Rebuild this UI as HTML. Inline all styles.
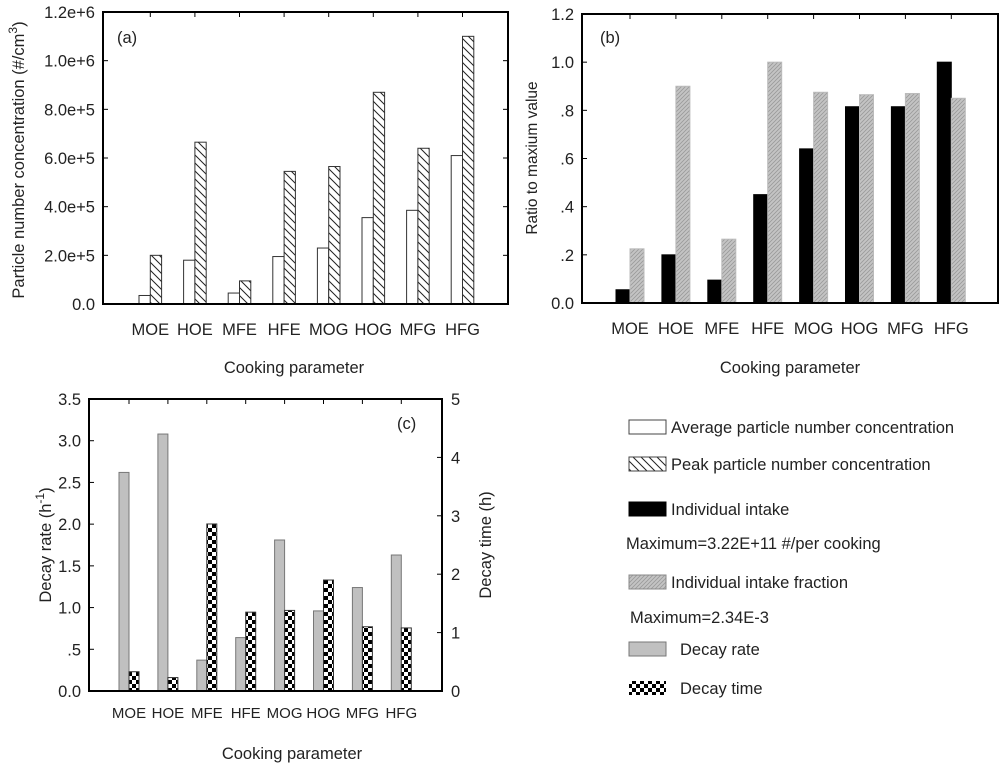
<!DOCTYPE html>
<html><head><meta charset="utf-8"><style>
body{margin:0;background:#fff;}
svg{display:block;font-family:"Liberation Sans",sans-serif;}
</style></head><body>
<svg id="s" width="1000" height="767" viewBox="0 0 1000 767">
<defs>
<pattern id="hatchA" patternUnits="userSpaceOnUse" width="8" height="8"><rect width="8" height="8" fill="#fff"/><path d="M-2,-2 L10,10 M-2,6 L2,10 M6,-2 L10,2" stroke="#222" stroke-width="1"/></pattern>
<pattern id="hatchB" patternUnits="userSpaceOnUse" width="4" height="4"><rect width="4" height="4" fill="#c4c4c4"/><path d="M-1,5 L5,-1 M-1,1 L1,-1 M3,5 L5,3" stroke="#9a9a9a" stroke-width="0.8"/></pattern>
<pattern id="checker" patternUnits="userSpaceOnUse" width="8" height="8"><rect width="8" height="8" fill="#fff"/><rect width="4" height="4" fill="#000"/><rect x="4" y="4" width="4" height="4" fill="#000"/></pattern>
</defs>
<g id="g"></g>
</svg>
<script>
const cats=["MOE","HOE","MFE","HFE","MOG","HOG","MFG","HFG"];
const aAvg=[0.035e6,0.18e6,0.045e6,0.195e6,0.23e6,0.355e6,0.385e6,0.61e6];
const aPeak=[0.2e6,0.665e6,0.095e6,0.545e6,0.565e6,0.87e6,0.64e6,1.1e6];
const aTicks=["0.0","2.0e+5","4.0e+5","6.0e+5","8.0e+5","1.0e+6","1.2e+6"];
const bIntake=[0.055,0.2,0.095,0.45,0.64,0.815,0.815,1.0];
const bFrac=[0.225,0.9,0.265,1.0,0.875,0.865,0.87,0.85];
const bTicks=["0.0",".2",".4",".6",".8","1.0","1.2"];
const cRate=[2.62,3.08,0.37,0.64,1.81,0.96,1.24,1.63];
const cTime=[0.33,0.23,2.86,1.35,1.38,1.9,1.1,1.08];
const cTicksL=["0.0",".5","1.0","1.5","2.0","2.5","3.0","3.5"];
const cTicksR=["0","1","2","3","4","5"];

const NS="http://www.w3.org/2000/svg";
const G=document.getElementById('g');
const FS=16.5;
function el(t,a,txt){const e=document.createElementNS(NS,t);for(const k in a)e.setAttribute(k,a[k]);if(txt!=null)e.textContent=txt;G.appendChild(e);return e;}

function panel(p){
  const {x0,x1,y0,y1,max,g0,step,bw}=p;
  const ys=v=>y1-(v/max)*(y1-y0);
  p.ticks.forEach((t,i)=>{const v=i*max/(p.ticks.length-1);const y=ys(v);
    const l=el('line',{x1:x0,x2:x0+5,y1:y,y2:y,stroke:'#000'});
    const tx=el('text',{x:x0-8,y:y+6,'text-anchor':'end','font-size':FS,fill:'#222'},t);
    if(p.rightMirror){const r=el('line',{x1:x1,x2:x1-5,y1:y,y2:y,stroke:'#000'});}
  });
  p.series.forEach((s,si)=>{
    s.vals.forEach((v,i)=>{
      const sc=s.scale||ys;
      const x=g0+i*step+si*bw;const y=sc(v);
      const r=el('rect',{x:x,y:y,width:bw,height:y1-y,fill:s.fill,stroke:s.stroke,'stroke-width':1});
      
      
    });
  });
  cats.forEach((c,i)=>{const x=g0+i*step+bw;
    const t=el('text',{x:x,y:y1+p.xlOff,'text-anchor':'middle','font-size':p.xfs,fill:'#222'},c);
    
    const tk=el('line',{x1:x,x2:x,y1:y0,y2:y0+5,stroke:'#000'});});
  const f=el('rect',{x:x0,y:y0,width:x1-x0,height:y1-y0,fill:'none',stroke:'#000','stroke-width':2});
  
  const lt=el('text',{x:p.lx,y:p.ly,'font-size':FS,fill:'#222'},p.label);
  const xt=el('text',{x:p.xtx,y:p.xty,'text-anchor':'middle','font-size':FS,fill:'#222'},'Cooking parameter');
  
  return ys;
}
panel({id:'panel-a',x0:103,x1:508,y0:12,y1:304,max:1.2e6,g0:139,step:44.6,bw:11.3,ticks:aTicks,rightMirror:true,xfs:FS,xlOff:31,
 series:[{name:'avg-bar',vals:aAvg,fill:'#fff',stroke:'#333'},{name:'peak-bar',vals:aPeak,fill:'url(#hatchA)',stroke:'#333'}],
 label:'(a)',lx:117,ly:43,xtx:294,xty:373});
const ya=el('text',{transform:'translate(24,160) rotate(-90)','text-anchor':'middle','font-size':FS,fill:'#222'});
ya.innerHTML='Particle number concentration (#/cm<tspan dy="-7" font-size="12">3</tspan><tspan dy="7">)</tspan>';

panel({id:'panel-b',x0:582,x1:998,y0:14,y1:303,max:1.2,g0:616,step:45.9,bw:14,ticks:bTicks,rightMirror:false,xfs:FS,xlOff:31,
 series:[{name:'intake-bar',vals:bIntake,fill:'#000',stroke:'#000'},{name:'intake-fraction-bar',vals:bFrac,fill:'url(#hatchB)',stroke:'#bbb'}],
 label:'(b)',lx:600,ly:43,xtx:790,xty:373});
const yb=el('text',{transform:'translate(537,158) rotate(-90)','text-anchor':'middle','font-size':15.5,fill:'#222'},'Ratio to maxium value');

const yR=v=>691-(v/5)*(691-399);
panel({id:'panel-c',x0:89,x1:442,y0:399,y1:691,max:3.5,g0:119,step:38.9,bw:10,ticks:cTicksL,rightMirror:false,xfs:15,xlOff:27,
 series:[{name:'decay-rate-bar',vals:cRate,fill:'#c0c0c0',stroke:'#777'},{name:'decay-time-bar',vals:cTime,fill:'url(#checker)',stroke:'#333',scale:yR}],
 label:'(c)',lx:397,ly:429,xtx:292,xty:759});
cTicksR.forEach((t,i)=>{const y=yR(i);
 const l=el('line',{x1:442,x2:437,y1:y,y2:y,stroke:'#000'});
 const tx=el('text',{x:451,y:y+6,'font-size':FS,fill:'#222'},t);});
const yc=el('text',{transform:'translate(51,545) rotate(-90)','text-anchor':'middle','font-size':FS,fill:'#222'});
yc.innerHTML='Decay rate (h<tspan dy="-7" font-size="12">-1</tspan><tspan dy="7">)</tspan>';

const yc2=el('text',{transform:'translate(491,545) rotate(-90)','text-anchor':'middle','font-size':FS,fill:'#222'},'Decay time (h)');

const leg=[
 {sw:'#fff',st:'#444',t:'Average particle number concentration',y:427,tx:671,n:'legend-avg'},
 {sw:'url(#hatchA)',st:'#444',t:'Peak particle number concentration',y:464,tx:671,n:'legend-peak'},
 {sw:'#000',st:'#000',t:'Individual intake',y:509,tx:671,n:'legend-intake'},
 {t:'Maximum=3.22E+11 #/per cooking',y:543,tx:626,n:'legend-max-intake'},
 {sw:'url(#hatchB)',st:'#888',t:'Individual intake fraction',y:582,tx:671,n:'legend-fraction'},
 {t:'Maximum=2.34E-3',y:617,tx:630,n:'legend-max-fraction'},
 {sw:'#c0c0c0',st:'#777',t:'Decay rate',y:649,tx:680,n:'legend-decay-rate'},
 {sw:'url(#checker)',st:'none',t:'Decay time',y:688,tx:680,n:'legend-decay-time'}];
leg.forEach(L=>{
 if(L.sw){const r=el('rect',{x:629,y:L.y-7,width:37,height:14,fill:L.sw,stroke:L.st});}
 const t=el('text',{x:L.tx,y:L.y+6,'font-size':FS,fill:'#222'},L.t);
});
</script>
</body></html>
